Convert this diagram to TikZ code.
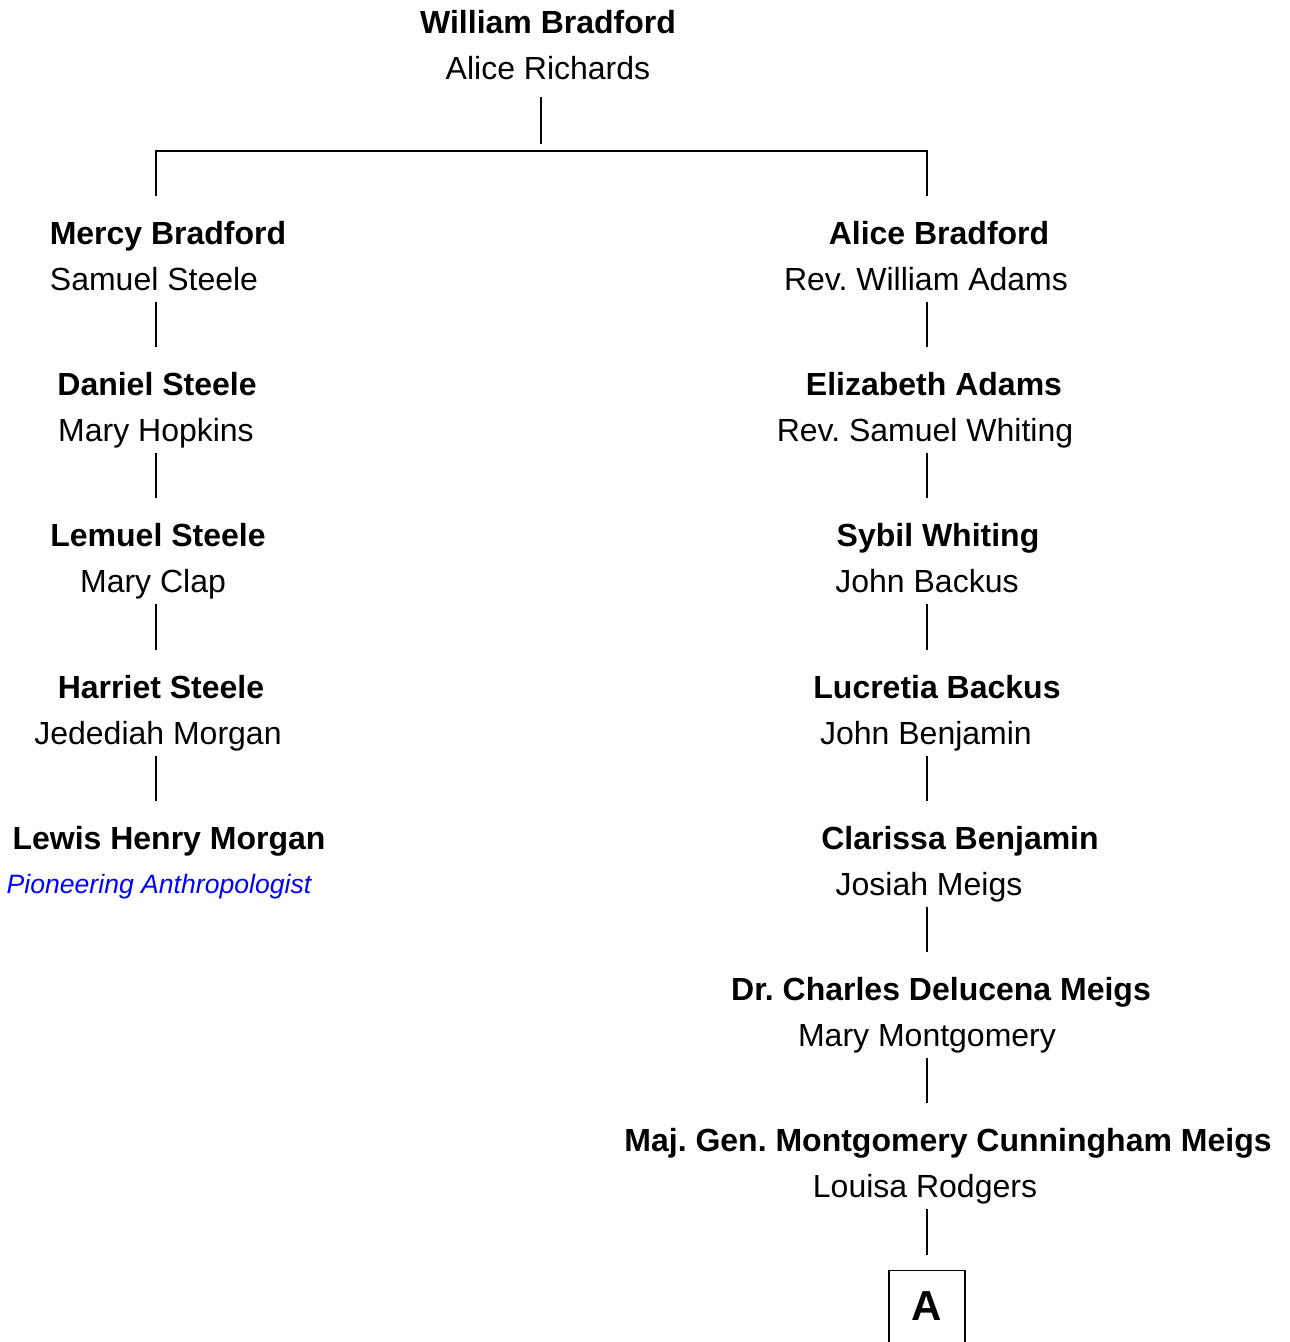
\documentclass[tikz,border=0pt]{standalone}
\usepackage{fontspec}
\setmainfont{Liberation Sans}
\usetikzlibrary{calc}
\frenchspacing
\tikzset{
  nm/.style={font=\fontsize{32}{38}\selectfont\bfseries, anchor=base, inner sep=0pt},
  sp/.style={font=\fontsize{32}{38}\selectfont, anchor=base, inner sep=0pt},
  note/.style={font=\fontsize{26.6}{31}\selectfont\itshape, text=blue, anchor=base, inner sep=0pt},
  link/.style={line width=1.3pt, black},
  boxA/.style={draw, line width=1.3pt, anchor=north, minimum width=76pt, minimum height=90pt, inner sep=0pt,
    text depth=20pt, font=\fontsize{42}{48}\selectfont\bfseries}
}
\begin{document}
\frenchspacing
\begin{tikzpicture}[x=1pt,y=-1pt]
\useasboundingbox (0,0) rectangle (1290,1342);
\coordinate (Tx) at (541,0);
\coordinate (Lx) at (156,0);
\coordinate (Rx) at (927,0);
% top couple
\node[nm] (n0) at (548,33) {William Bradford};
\node[sp] (s0) at (548,79) {Alice Richards};
% left column
\node[nm] (l1) at (168,244) {Mercy Bradford};
\node[sp] (ls1) at (154,290) {Samuel Steele};
\node[nm] (l2) at (157,395) {Daniel Steele};
\node[sp] (ls2) at (156,441) {Mary Hopkins};
\node[nm] (l3) at (158,546) {Lemuel Steele};
\node[sp] (ls3) at (153,592) {Mary Clap};
\node[nm] (l4) at (161,698) {Harriet Steele};
\node[sp] (ls4) at (158,744) {Jedediah Morgan};
\node[nm] (l5) at (169,849) {Lewis Henry Morgan};
\node[note] (ln5) at (159,893) {Pioneering Anthropologist};
% right column
\node[nm] (r1) at (939,244) {Alice Bradford};
\node[sp] (rs1) at (926,290) {Rev. William Adams};
\node[nm] (r2) at (934,395) {Elizabeth Adams};
\node[sp] (rs2) at (925,441) {Rev. Samuel Whiting};
\node[nm] (r3) at (938,546) {Sybil Whiting};
\node[sp] (rs3) at (927,592) {John Backus};
\node[nm] (r4) at (937,698) {Lucretia Backus};
\node[sp] (rs4) at (926,744) {John Benjamin};
\node[nm] (r5) at (960,849) {Clarissa Benjamin};
\node[sp] (rs5) at (929,895) {Josiah Meigs};
\node[nm] (r6) at (941,1000) {Dr. Charles Delucena Meigs};
\node[sp] (rs6) at (927,1046) {Mary Montgomery};
\node[nm] (r7) at (948,1151) {Maj. Gen. Montgomery Cunningham Meigs};
\node[sp] (rs7) at (925,1197) {Louisa Rodgers};
\node[boxA] (A) at (927,1270) {A};
% top connector
\draw[link] ($(s0.base -| Tx)+(0,18)$) -- ($(s0.base -| Tx)+(0,65)$);
\draw[link] ($(l1.base -| Lx)+(0,-48)$) -- ($(l1.base -| Lx)+(0,-93)$)
  -- ($(r1.base -| Rx)+(0,-93)$) -- ($(r1.base -| Rx)+(0,-48)$);
% left column connectors
\foreach \a/\b in {ls1/l2, ls2/l3, ls3/l4, ls4/l5}{
  \draw[link] ($(\a.base -| Lx)+(0,12)$) -- ($(\b.base -| Lx)+(0,-48)$);
}
% right column connectors
\foreach \a/\b in {rs1/r2, rs2/r3, rs3/r4, rs4/r5, rs5/r6, rs6/r7}{
  \draw[link] ($(\a.base -| Rx)+(0,12)$) -- ($(\b.base -| Rx)+(0,-48)$);
}
\draw[link] ($(rs7.base -| Rx)+(0,12)$) -- ($(A.north -| Rx)+(0,-15)$);
\end{tikzpicture}
\end{document}
